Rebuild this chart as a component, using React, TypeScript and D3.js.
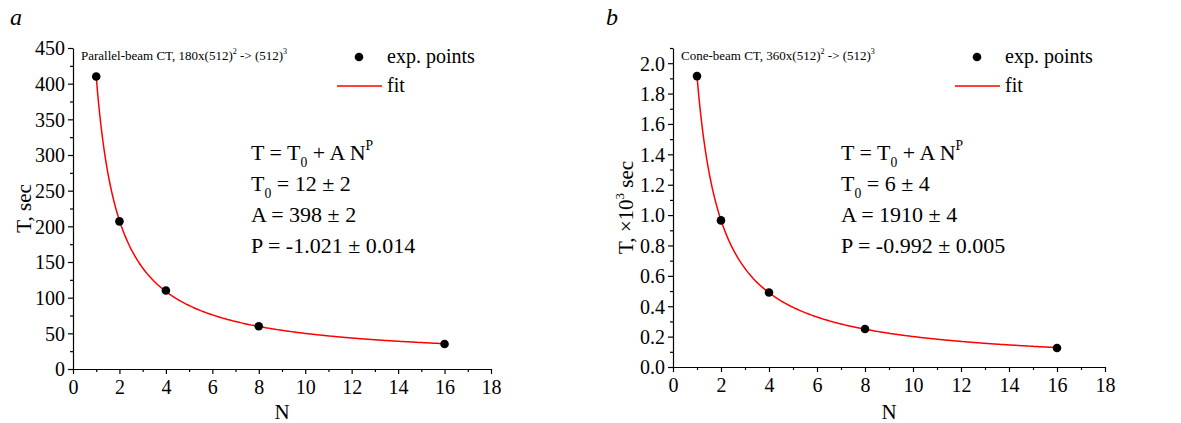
import * as d3 from 'd3';
import * as React from 'react';

const { useRef, useEffect } = React;

const width = 1181;
const height = 423;
const font = 'Liberation Serif';

// measured points, N = number of processors
const nValues = [1, 2, 4, 8, 16];
const parallelTimes = [410, 207, 110, 60, 35];
const coneTimes = [1.915, 0.965, 0.49, 0.25, 0.125]; // in 10^3 sec

// fit T = T0 + A N^P
const parallelFit = { t0: 12, a: 398, p: -1.021 };
const coneFit = { t0: 0.006, a: 1.91, p: -0.992 };

const xTicks = [0, 2, 4, 6, 8, 10, 12, 14, 16, 18];
const xMinor = [1, 3, 5, 7, 9, 11, 13, 15, 17];
const parallelYTicks = [0, 50, 100, 150, 200, 250, 300, 350, 400, 450];
const parallelYMinor = [25, 75, 125, 175, 225, 275, 325, 375, 425];
const coneYTicks = [0, 0.2, 0.4, 0.6, 0.8, 1.0, 1.2, 1.4, 1.6, 1.8, 2.0];
const coneYMinor = [0.1, 0.3, 0.5, 0.7, 0.9, 1.1, 1.3, 1.5, 1.7, 1.9, 2.1];

type Part = { s: string; sup?: boolean; sub?: boolean };

const parallelEq: Part[][] = [
  [{ s: 'T = T' }, { s: '0', sub: true }, { s: ' + A N' }, { s: 'P', sup: true }],
  [{ s: 'T' }, { s: '0', sub: true }, { s: ' = 12 \u00b1 2' }],
  [{ s: 'A = 398 \u00b1 2' }],
  [{ s: 'P = -1.021 \u00b1 0.014' }],
];
const coneEq: Part[][] = [
  [{ s: 'T = T' }, { s: '0', sub: true }, { s: ' + A N' }, { s: 'P', sup: true }],
  [{ s: 'T' }, { s: '0', sub: true }, { s: ' = 6 \u00b1 4' }],
  [{ s: 'A = 1910 \u00b1 4' }],
  [{ s: 'P = -0.992 \u00b1 0.005' }],
];

const panels = [
  {
    letter: 'a',
    letterX: 10,
    left: 73,
    right: 491,
    top: 48,
    bottom: 369,
    yMax: 450,
    yTicks: parallelYTicks,
    yMinor: parallelYMinor,
    yFormat: d3.format('d'),
    values: parallelTimes,
    fit: parallelFit,
    title: [{ s: 'Parallel-beam CT, 180x(512)' }, { s: '2', sup: true }, { s: ' -> (512)' }, { s: '3', sup: true }],
    yLabel: [{ s: 'T, sec' }],
    yLabelX: 31,
    eq: parallelEq,
    eqX: 251,
    legendX: 337,
  },
  {
    letter: 'b',
    letterX: 606,
    left: 673,
    right: 1105,
    top: 48,
    bottom: 367,
    yMax: 2.1,
    yTicks: coneYTicks,
    yMinor: coneYMinor,
    yFormat: d3.format('.1f'),
    values: coneTimes,
    fit: coneFit,
    title: [{ s: 'Cone-beam CT, 360x(512)' }, { s: '2', sup: true }, { s: ' -> (512)' }, { s: '3', sup: true }],
    yLabel: [{ s: 'T, \u00d710' }, { s: '3', sup: true }, { s: ' sec' }],
    yLabelX: 633,
    eq: coneEq,
    eqX: 841,
    legendX: 955,
  },
];

function richText(
  g: d3.Selection<any, any, any, any>,
  parts: Part[],
  size: number,
) {
  let shift = 0;
  parts.forEach(p => {
    const target = p.sup ? -0.45 * size : p.sub ? 0.3 * size : 0;
    g.append('tspan')
      .attr('dy', target - shift)
      .style('font-family', font)
      .style('font-size', `${p.sup || p.sub ? size * 0.62 : size}px`)
      .text(p.s);
    shift = target;
  });
}

export default () => {
  const rootRef = useRef<SVGSVGElement>(null);

  useEffect(() => {
    const svg = d3.select(rootRef.current);
    svg.selectAll('*').remove();

    const label = (g: d3.Selection<any, any, any, any>, size: number) =>
      g.style('font-family', font).style('font-size', `${size}px`).attr('fill', '#000');

    panels.forEach(pn => {
      const x = d3.scaleLinear().domain([0, 18]).range([pn.left, pn.right]);
      const y = d3.scaleLinear().domain([0, pn.yMax]).range([pn.bottom, pn.top]);
      const g = svg.append('g');

      // panel letter
      g.append('text')
        .attr('x', pn.letterX)
        .attr('y', 25)
        .call(label, 24)
        .style('font-style', 'italic')
        .text(pn.letter);

      // minor ticks
      g.append('g')
        .attr('transform', `translate(0,${pn.bottom})`)
        .call(d3.axisBottom(x).tickValues(xMinor).tickSize(3).tickFormat(() => ''))
        .call(a => a.select('.domain').remove());
      g.append('g')
        .attr('transform', `translate(${pn.left},0)`)
        .call(d3.axisLeft(y).tickValues(pn.yMinor).tickSize(3).tickFormat(() => ''))
        .call(a => a.select('.domain').remove());

      // major axes
      g.append('g')
        .attr('transform', `translate(0,${pn.bottom})`)
        .call(d3.axisBottom(x).tickValues(xTicks).tickSize(5).tickSizeOuter(0).tickPadding(6))
        .call(a => a.selectAll('text').call(label, 20));
      g.append('g')
        .attr('transform', `translate(${pn.left},0)`)
        .call(
          d3
            .axisLeft(y)
            .tickValues(pn.yTicks)
            .tickSize(5)
            .tickSizeOuter(0)
            .tickPadding(3)
            .tickFormat(d => pn.yFormat(d as number)),
        )
        .call(a => a.selectAll('text').call(label, 20).attr('dy', '0.34em'));
      g.selectAll('.domain, .tick line').attr('stroke', '#000').attr('stroke-width', 1.2);

      // axis labels
      g.append('text')
        .attr('x', (pn.left + pn.right) / 2)
        .attr('y', 419)
        .attr('text-anchor', 'middle')
        .call(label, 21)
        .text('N');
      const yl = g
        .append('text')
        .attr('transform', `translate(${pn.yLabelX},${(pn.top + pn.bottom) / 2}) rotate(-90)`)
        .attr('text-anchor', 'middle')
        .call(label, 21);
      richText(yl, pn.yLabel, 21);

      // fit curve
      const fitN = d3.range(1, 16.001, 0.05);
      const line = d3
        .line<number>()
        .x(n => x(n))
        .y(n => y(pn.fit.t0 + pn.fit.a * Math.pow(n, pn.fit.p)));
      g.append('path')
        .datum(fitN)
        .attr('fill', 'none')
        .attr('stroke', '#ff0000')
        .attr('stroke-width', 1.5)
        .attr('d', line);

      // points
      g.selectAll('circle.pt')
        .data(nValues)
        .join('circle')
        .attr('class', 'pt')
        .attr('cx', n => x(n))
        .attr('cy', (n, i) => y(pn.values[i]))
        .attr('r', 4.3)
        .attr('fill', '#000');

      // title
      const t = g.append('text').attr('x', pn.left + 8).attr('y', 60).call(label, 13);
      richText(t, pn.title, 13);

      // legend
      const lx = pn.legendX;
      g.append('circle').attr('cx', lx + 22).attr('cy', 57).attr('r', 4.3).attr('fill', '#000');
      g.append('text').attr('x', lx + 50).attr('y', 63).call(label, 20).text('exp. points');
      g.append('line')
        .attr('x1', lx)
        .attr('x2', lx + 45)
        .attr('y1', 86)
        .attr('y2', 86)
        .attr('stroke', '#ff0000')
        .attr('stroke-width', 1.5);
      g.append('text').attr('x', lx + 50).attr('y', 92).call(label, 20).text('fit');

      // fit equations
      pn.eq.forEach((parts, i) => {
        const et = g.append('text').attr('x', pn.eqX).attr('y', 160 + i * 31).call(label, 22);
        richText(et, parts, 22);
      });
    });
  }, []);

  return (
    <svg
      ref={rootRef}
      width={width}
      height={height}
      style={{ position: 'absolute', left: 0, top: 0, background: '#fff' }}
    />
  );
};
